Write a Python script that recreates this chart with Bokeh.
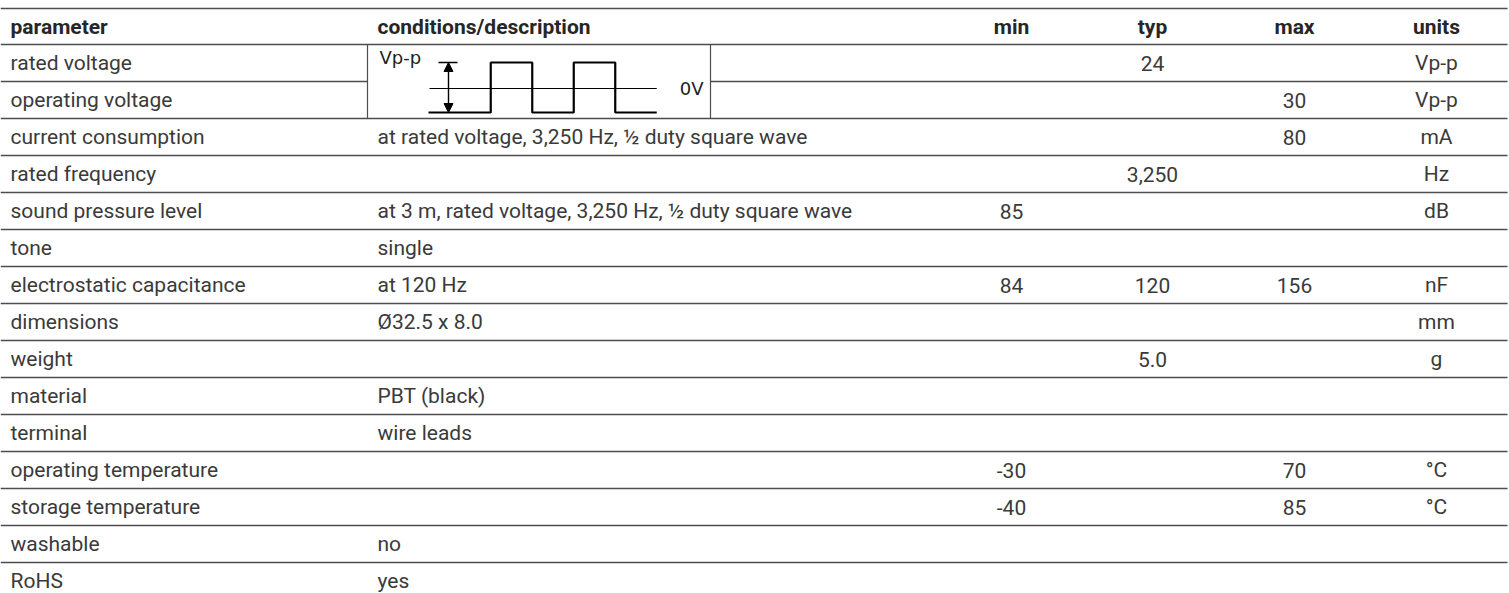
from bokeh.plotting import figure
from bokeh.models import Range1d, ColumnDataSource, Arrow, NormalHead
from bokeh.core.properties import value
from bokeh.embed import file_html
from bokeh.resources import INLINE

# ---------------- data ----------------
headers = ["parameter", "conditions/description", "min", "typ", "max", "units"]
parameters = ["rated voltage", "operating voltage", "current consumption", "rated frequency",
              "sound pressure level", "tone", "electrostatic capacitance", "dimensions",
              "weight", "material", "terminal", "operating temperature",
              "storage temperature", "washable", "RoHS"]
conditions = ["", "", "at rated voltage, 3,250 Hz, \u00bd duty square wave", "",
              "at 3 m, rated voltage, 3,250 Hz, \u00bd duty square wave", "single",
              "at 120 Hz", "\u00d832.5 x 8.0", "", "PBT (black)", "wire leads",
              "", "", "no", "yes"]
min_vals = ["", "", "", "", "85", "", "84", "", "", "", "", "-30", "-40", "", ""]
typ_vals = ["24", "", "", "3,250", "", "", "120", "", "5.0", "", "", "", "", "", ""]
max_vals = ["", "30", "80", "", "", "", "156", "", "", "", "", "70", "85", "", ""]
units = ["Vp-p", "Vp-p", "mA", "Hz", "dB", "", "nF", "mm", "g", "", "", "\u00b0C", "\u00b0C", "", ""]

# square-wave sketch shown in the conditions cell of the first two rows (relative units)
wave_t = [0, 1.5, 1.5, 2.5, 2.5, 3.5, 3.5, 4.5, 4.5, 5.5]
wave_level = [-1, -1, 1, 1, -1, -1, 1, 1, -1, -1]
wave_labels = ["Vp-p", "0V"]

# ---------------- layout ----------------
TABLE_X0, TABLE_X1 = 0, 1507
TOP, HEAD_BOTTOM, ROW_H = 8, 44, 37
PARAM_X, COND_X = 10, 377
VALUE_CENTERS = [1011, 1152, 1294, 1436]
BOX_X0, BOX_X1 = 367, 710
WAVE_X0, WAVE_UNIT = 428, 41.5
WAVE_MID, WAVE_AMP = 87, 25

BODY_FONT = value("Roboto")
BODY_SIZE = value("21px")
BODY_COLOR = "#3a3a3a"
LINE_COLOR = "#4d4d4d"

n = len(parameters)
row_center = [HEAD_BOTTOM + ROW_H * i + ROW_H / 2 for i in range(n)]
head_center = (TOP + HEAD_BOTTOM) / 2

p = figure(width=1509, height=593, output_backend="svg", toolbar_location=None,
           x_range=Range1d(0, 1509), y_range=Range1d(593, 0), min_border=0)
p.axis.visible = False
p.grid.visible = False
p.outline_line_color = None
p.background_fill_color = "white"
p.border_fill_color = "white"

# horizontal rules
x0s, x1s, ys = [], [], []
x0s.append(TABLE_X0); x1s.append(TABLE_X1); ys.append(TOP)
x0s.append(TABLE_X0); x1s.append(TABLE_X1); ys.append(HEAD_BOTTOM)
for i in range(1, n):
    y = HEAD_BOTTOM + ROW_H * i
    if i == 1:
        x0s += [TABLE_X0, BOX_X1]; x1s += [BOX_X0, TABLE_X1]; ys += [y, y]
    else:
        x0s.append(TABLE_X0); x1s.append(TABLE_X1); ys.append(y)
p.segment(x0=x0s, y0=ys, x1=x1s, y1=ys, line_color=LINE_COLOR, line_width=1.6)

# waveform box borders
box_y0, box_y1 = HEAD_BOTTOM, HEAD_BOTTOM + 2 * ROW_H
p.segment(x0=[BOX_X0, BOX_X1], y0=[box_y0, box_y0], x1=[BOX_X0, BOX_X1], y1=[box_y1, box_y1],
          line_color=LINE_COLOR, line_width=1.2)

# square wave
wx = [WAVE_X0 + WAVE_UNIT * t for t in wave_t]
wy = [WAVE_MID - WAVE_AMP * l for l in wave_level]
p.line(wx, wy, line_color="black", line_width=2.2)
# 0V reference line
p.line([WAVE_X0 + 1, WAVE_X0 + WAVE_UNIT * 5.5], [WAVE_MID + 1, WAVE_MID + 1], line_color="black", line_width=1.2)
# top marker line
p.line([WAVE_X0 + 10, WAVE_X0 + 29], [WAVE_MID - WAVE_AMP, WAVE_MID - WAVE_AMP], line_color="black", line_width=1.4)
# double arrow
p.add_layout(Arrow(start=NormalHead(size=9, fill_color="black", line_color="black"),
                   end=NormalHead(size=9, fill_color="black", line_color="black"),
                   x_start=WAVE_X0 + 20, y_start=WAVE_MID + WAVE_AMP,
                   x_end=WAVE_X0 + 20, y_end=WAVE_MID - WAVE_AMP,
                   line_color="black", line_width=1.4))
p.text(x=[BOX_X0 + 12], y=[57], text=[wave_labels[0]], text_align="left", text_baseline="middle",
       text_font=value("DejaVu Sans"), text_font_size=value("18px"), text_color="#222222")
p.text(x=[BOX_X1 - 7], y=[WAVE_MID + 1], text=[wave_labels[1]], text_align="right", text_baseline="middle",
       text_font=value("DejaVu Sans"), text_font_size=value("18px"), text_color="#222222")

# header texts
hx = [PARAM_X, COND_X] + VALUE_CENTERS
halign = ["left", "left", "center", "center", "center", "center"]
hsrc = ColumnDataSource(dict(x=hx, y=[head_center] * 6, text=headers, align=halign))
p.text(x="x", y="y", text="text", text_align="align", source=hsrc, text_baseline="middle",
       text_font=BODY_FONT, text_font_size=BODY_SIZE, text_font_style="bold", text_color="#262626")

# body texts
p.text(x=[PARAM_X] * n, y=row_center, text=parameters, text_align="left", text_baseline="middle",
       text_font=BODY_FONT, text_font_size=BODY_SIZE, text_color=BODY_COLOR)
p.text(x=[COND_X] * n, y=row_center, text=conditions, text_align="left", text_baseline="middle",
       text_font=BODY_FONT, text_font_size=BODY_SIZE, text_color=BODY_COLOR)
for cx, col in zip(VALUE_CENTERS, [min_vals, typ_vals, max_vals, units]):
    p.text(x=[cx] * n, y=row_center, text=col, text_align="center", text_baseline="middle",
           text_font=BODY_FONT, text_font_size=BODY_SIZE, text_color=BODY_COLOR)

open("out.html", "w").write(file_html(p, INLINE))
